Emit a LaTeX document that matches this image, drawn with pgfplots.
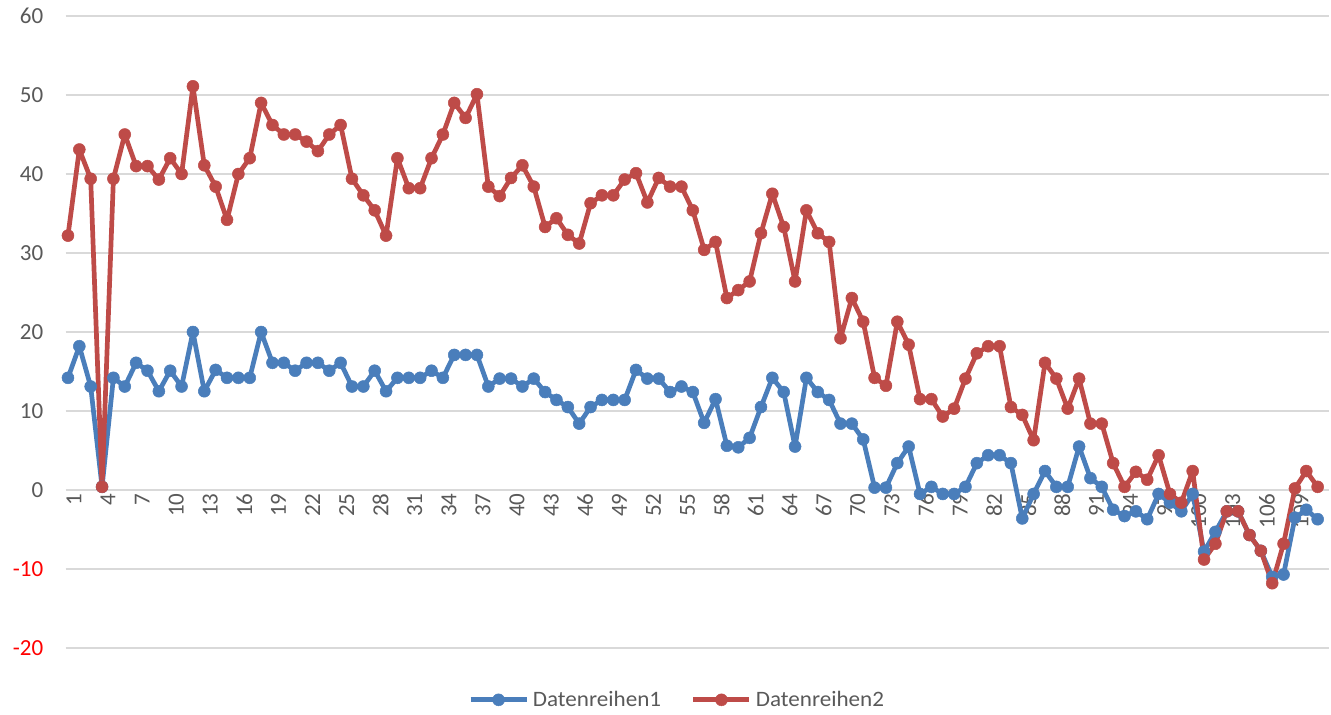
\documentclass[border=0pt]{standalone}
\usepackage{pgfplots}
\pgfplotsset{compat=1.18}
\usepackage{fontspec}
\setmainfont{Carlito}
\newfontfamily\legfont{Carlito}[FakeStretch=1.05]
\definecolor{s1}{HTML}{4A7EBB}
\definecolor{s2}{HTML}{BE4B48}
\definecolor{lbl}{HTML}{595959}
\definecolor{grd}{HTML}{D9D9D9}
\begin{document}
\begin{tikzpicture}
\useasboundingbox (0,0) rectangle (1331pt,715pt);
\begin{axis}[
  scale only axis, width=1263.3pt, height=632pt,
  at={(65.7pt,67pt)}, anchor=south west,
  xmin=0.8, xmax=112, ymin=-20, ymax=60,
  axis x line=middle, axis y line=left,
  axis line style={draw=none},
  hide obscured x ticks=false, hide obscured y ticks=false,
  major tick length=0pt,
  /pgf/number format/assume math mode=true,
  ymajorgrids, grid style={grd, line width=1.5pt},
  ytick={-20,-10,...,60},
  yticklabels={\textcolor{red}{-20},\textcolor{red}{-10},0,10,20,30,40,50,60},
  xtick={1,4,...,109},
  xticklabel style={rotate=90, anchor=east, font=\fontsize{23}{26}\selectfont, text=lbl, yshift=-6pt},
  yticklabel style={font=\fontsize{23}{26}\selectfont, text=lbl, anchor=east, xshift=-19pt},
  legend style={at={(0.484,-0.082)}, anchor=center, draw=none, fill=none,
    font=\legfont\fontsize{22}{25}\selectfont, text=lbl, legend columns=2,
    /tikz/every odd column/.append style={column sep=2pt},
    /tikz/every even column/.append style={column sep=28pt}},
  legend image code/.code={\draw[mark repeat=2,mark phase=2] plot coordinates {(0pt,0pt) (28pt,0pt) (56pt,0pt)};},
  clip=false,
]
\addplot[s1, line width=4.7pt, line join=round, mark=*, mark size=6pt, mark options={solid, fill=s1, draw=s1, line width=0.5pt}] table {
x y
1 14.2
2 18.2
3 13.1
4 0.4
5 14.2
6 13.1
7 16.1
8 15.1
9 12.5
10 15.1
11 13.1
12 20.0
13 12.5
14 15.2
15 14.2
16 14.2
17 14.2
18 20.0
19 16.1
20 16.1
21 15.1
22 16.1
23 16.1
24 15.1
25 16.1
26 13.1
27 13.1
28 15.1
29 12.5
30 14.2
31 14.2
32 14.2
33 15.1
34 14.2
35 17.1
36 17.1
37 17.1
38 13.1
39 14.1
40 14.1
41 13.1
42 14.1
43 12.4
44 11.4
45 10.5
46 8.4
47 10.5
48 11.4
49 11.4
50 11.4
51 15.2
52 14.1
53 14.1
54 12.4
55 13.1
56 12.4
57 8.5
58 11.5
59 5.6
60 5.4
61 6.6
62 10.5
63 14.2
64 12.4
65 5.5
66 14.2
67 12.4
68 11.4
69 8.4
70 8.4
71 6.4
72 0.3
73 0.3
74 3.4
75 5.5
76 -0.5
77 0.4
78 -0.5
79 -0.5
80 0.4
81 3.4
82 4.4
83 4.4
84 3.4
85 -3.6
86 -0.5
87 2.4
88 0.4
89 0.4
90 5.5
91 1.5
92 0.4
93 -2.5
94 -3.3
95 -2.7
96 -3.7
97 -0.5
98 -1.6
99 -2.7
100 -0.5
101 -7.8
102 -5.3
103 -2.7
104 -2.7
105 -5.7
106 -7.7
107 -11.0
108 -10.7
109 -3.5
110 -2.5
111 -3.7
};
\addlegendentry{Datenreihen1}
\addplot[s2, line width=4.7pt, line join=round, mark=*, mark size=6pt, mark options={solid, fill=s2, draw=s2, line width=0.5pt}] table {
x y
1 32.2
2 43.1
3 39.4
4 0.4
5 39.4
6 45.0
7 41.0
8 41.0
9 39.3
10 42.0
11 40.0
12 51.1
13 41.1
14 38.4
15 34.2
16 40.0
17 42.0
18 49.0
19 46.2
20 45.0
21 45.0
22 44.1
23 42.9
24 45.0
25 46.2
26 39.4
27 37.3
28 35.4
29 32.2
30 42.0
31 38.2
32 38.2
33 42.0
34 45.0
35 49.0
36 47.1
37 50.1
38 38.4
39 37.2
40 39.5
41 41.1
42 38.4
43 33.3
44 34.4
45 32.3
46 31.2
47 36.3
48 37.3
49 37.3
50 39.3
51 40.1
52 36.4
53 39.5
54 38.4
55 38.4
56 35.4
57 30.4
58 31.4
59 24.3
60 25.3
61 26.4
62 32.5
63 37.5
64 33.3
65 26.4
66 35.4
67 32.5
68 31.4
69 19.2
70 24.3
71 21.3
72 14.2
73 13.2
74 21.3
75 18.4
76 11.5
77 11.5
78 9.3
79 10.3
80 14.1
81 17.3
82 18.2
83 18.2
84 10.5
85 9.5
86 6.3
87 16.1
88 14.1
89 10.3
90 14.1
91 8.4
92 8.4
93 3.4
94 0.4
95 2.3
96 1.3
97 4.4
98 -0.5
99 -1.6
100 2.4
101 -8.8
102 -6.8
103 -2.7
104 -2.7
105 -5.7
106 -7.7
107 -11.8
108 -6.8
109 0.2
110 2.4
111 0.4
};
\addlegendentry{Datenreihen2}
\end{axis}
\end{tikzpicture}
\end{document}
